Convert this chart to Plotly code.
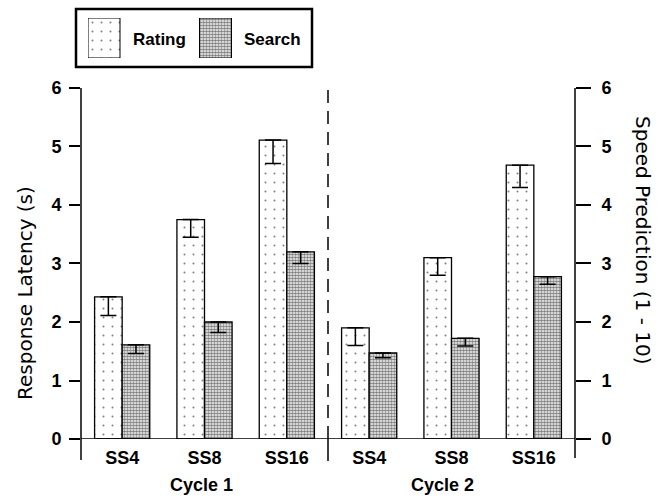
import plotly.graph_objects as go

# Conditions: set size within each cycle
conditions = ["SS4", "SS8", "SS16", "SS4", "SS8", "SS16"]
cycles = ["Cycle 1", "Cycle 2"]

# Mean response latency (s) and error (shown downward only)
rating = [2.43, 3.75, 5.11, 1.90, 3.10, 4.68]
search = [1.61, 2.00, 3.20, 1.47, 1.72, 2.775]
rating_err = [0.32, 0.30, 0.40, 0.30, 0.30, 0.38]
search_err = [0.15, 0.18, 0.20, 0.08, 0.13, 0.13]

series_names = ["Rating", "Search"]
y_ticks = [0, 1, 2, 3, 4, 5, 6]

x_pos = list(range(len(conditions)))

BOLD = "Liberation Sans, Arial, sans-serif"
TITLE = "DejaVu Sans, Verdana, sans-serif"

rating_pattern = dict(shape=".", size=9, solidity=0.04, fgcolor="black", bgcolor="white")
search_pattern = dict(shape=".", size=3, solidity=0.65, fgcolor="black", bgcolor="white")

fig = go.Figure()

fig.add_trace(go.Bar(
    x=x_pos, y=rating, name=series_names[0],
    marker=dict(color="white", line=dict(color="black", width=1.3), pattern=rating_pattern),
    error_y=dict(type="data", symmetric=False, array=[0] * len(rating), arrayminus=rating_err,
                 color="black", thickness=1.5, width=8),
    showlegend=False,
))
fig.add_trace(go.Bar(
    x=x_pos, y=search, name=series_names[1],
    marker=dict(color="white", line=dict(color="black", width=1.3), pattern=search_pattern),
    error_y=dict(type="data", symmetric=False, array=[0] * len(search), arrayminus=search_err,
                 color="black", thickness=1.5, width=8),
    showlegend=False,
))
# keeps the right-hand scale drawn
fig.add_trace(go.Scatter(x=[0], y=[0], yaxis="y2", mode="none", showlegend=False, hoverinfo="skip"))

# Legend key swatches drawn on a small inset axis
fig.add_trace(go.Bar(
    x=[0], y=[1], width=[0.287], xaxis="x3", yaxis="y3",
    marker=dict(color="white", line=dict(color="black", width=1), pattern=rating_pattern),
    showlegend=False, hoverinfo="skip",
))
fig.add_trace(go.Bar(
    x=[1], y=[1], width=[0.287], xaxis="x3", yaxis="y3",
    marker=dict(color="white", line=dict(color="black", width=1), pattern=search_pattern),
    showlegend=False, hoverinfo="skip",
))

Y_TOP = 0.8088  # top of the value axis within the plotting area
PX_Y = 1 / 434.0
PX_X = 1 / 494.0

shapes = [
    # baseline
    dict(type="line", xref="paper", yref="y", x0=0, x1=1, y0=0, y1=0,
         line=dict(color="black", width=1.5)),
    # left and right axis lines, extended below the baseline
    dict(type="line", xref="paper", yref="paper", x0=0, x1=0, y0=-21 * PX_Y, y1=Y_TOP,
         line=dict(color="black", width=1.5)),
    dict(type="line", xref="paper", yref="paper", x0=1, x1=1, y0=-19 * PX_Y, y1=Y_TOP,
         line=dict(color="black", width=1.5)),
    # cycle separator
    dict(type="line", xref="x", yref="y", x0=2.5, x1=2.5, y0=0, y1=6,
         line=dict(color="black", width=1.5, dash="13px,8px")),
    dict(type="line", xref="x", yref="paper", x0=2.5, x1=2.5, y0=-22 * PX_Y, y1=0,
         line=dict(color="black", width=1.5)),
    # legend frame
    dict(type="rect", xref="paper", yref="paper",
         x0=-5 * PX_X, x1=231 * PX_X, y0=372 * PX_Y, y1=430 * PX_Y,
         line=dict(color="black", width=2.5), fillcolor="rgba(0,0,0,0)"),
]

def note(text, x, y, font, xref="paper", textangle=0, xshift=0):
    return dict(text=text, xref=xref, yref="paper", x=x, y=y, xanchor="center", yanchor="middle",
                textangle=textangle, xshift=xshift, showarrow=False, font=font)

legend_font = dict(family=BOLD, size=17, color="black", weight="bold")
cycle_font = dict(family=BOLD, size=18, color="black", weight="bold")
title_font = dict(family=TITLE, size=20, color="black")

annotations = [
    note(series_names[0], 78 * PX_X, 400 * PX_Y, legend_font),
    note(series_names[1], 191 * PX_X, 400 * PX_Y, legend_font),
    note(cycles[0], 1, -46 * PX_Y, cycle_font, xref="x", xshift=-3),
    note(cycles[1], 4, -46 * PX_Y, cycle_font, xref="x", xshift=-9),
    note("Response Latency (s)", -56 * PX_X, 146 * PX_Y, title_font, textangle=-90),
    note("Speed Prediction (1 - 10)", 562 * PX_X, 199 * PX_Y, title_font, textangle=90),
]

tick_font = dict(family=BOLD, size=18, color="black", weight="bold")

fig.update_layout(
    width=664, height=499,
    margin=dict(l=81, r=89, t=5, b=60, autoexpand=False),
    paper_bgcolor="white", plot_bgcolor="white",
    barmode="group", bargap=0.33, bargroupgap=0,
    showlegend=False,
    xaxis=dict(
        range=[-0.5, 5.5], tickvals=x_pos, ticktext=conditions,
        showgrid=False, zeroline=False, showline=False, ticks="",
        tickfont=dict(family=BOLD, size=18, color="black", weight="bold"),
        ticklabelstandoff=6, fixedrange=True, automargin=False,
    ),
    yaxis=dict(
        domain=[0, Y_TOP], range=[0, 6], tickvals=y_ticks,
        showgrid=False, zeroline=False, showline=False,
        ticks="outside", ticklen=11, tickwidth=1.5, tickcolor="black",
        tickfont=tick_font, ticklabelstandoff=4, automargin=False,
    ),
    yaxis2=dict(
        overlaying="y", side="right", anchor="x", range=[0, 6], tickvals=y_ticks,
        showgrid=False, zeroline=False, showline=False,
        ticks="outside", ticklen=15, tickwidth=1.5, tickcolor="black",
        tickfont=tick_font, ticklabelstandoff=7, automargin=False,
    ),
    xaxis3=dict(
        domain=[7 * PX_X, 151 * PX_X], anchor="y3", range=[-0.1435, 1.148],
        visible=False, fixedrange=True, automargin=False,
    ),
    yaxis3=dict(
        domain=[381 * PX_Y, 421 * PX_Y], anchor="x3", range=[0, 1],
        visible=False, fixedrange=True, automargin=False,
    ),
    shapes=shapes,
    annotations=annotations,
)

fig.write_html("out.html")
